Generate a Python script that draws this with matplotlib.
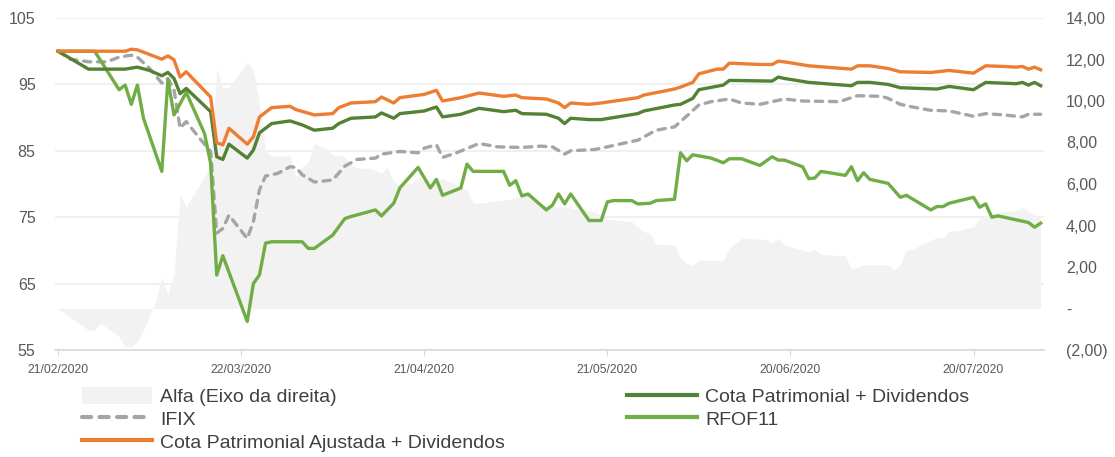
import pandas as pd
import matplotlib
matplotlib.use('Agg')
import matplotlib.pyplot as plt
from matplotlib.ticker import FuncFormatter, FixedLocator
from matplotlib.patches import Patch
from matplotlib.lines import Line2D

plt.rcParams['font.family'] = ['Liberation Sans', 'DejaVu Sans']

inicio = pd.Timestamp('2020-02-21')

# dias corridos desde 21/02/2020 e valores
alfa_dias = [0, 5, 6, 7, 10, 11, 12, 13, 14, 16, 17, 18, 19, 20, 21, 23, 25, 26, 27, 28, 31, 32, 33, 34,
             35, 38, 39, 40, 41, 42, 44, 45, 47, 48, 49, 51, 53, 54, 55, 56, 58, 59, 61, 63, 67, 68, 69,
             74, 76, 77, 79, 81, 83, 86, 88, 90, 94, 96, 97, 98, 101, 102, 103, 104, 105, 109, 110, 112,
             116, 117, 118, 119, 122, 123, 124, 125, 129, 130, 131, 132, 136, 137, 138, 139, 140, 144,
             145, 146, 147, 150, 151, 153, 155, 157, 158, 159, 160, 161]
alfa = [0.0, -1.04, -1.04, -0.71, -1.36, -1.84, -1.84, -1.6, -1.04, 0.33, 1.53, 0.65, 1.7, 5.47, 4.9,
        5.87, 6.83, 11.58, 10.6, 10.66, 11.89, 11.49, 9.89, 7.6, 7.35, 7.35, 6.35, 6.83, 7.07, 7.96,
        7.67, 7.4, 7.32, 6.92, 6.76, 6.76, 6.52, 6.8, 6.11, 5.95, 6.03, 6.35, 6.0, 6.27, 5.71, 5.1,
        5.07, 5.26, 5.47, 5.47, 4.99, 4.9, 4.9, 4.75, 4.67, 4.3, 4.18, 3.7, 3.62, 3.1, 3.06, 2.42,
        2.18, 2.1, 2.34, 2.3, 2.9, 3.38, 3.33, 3.14, 3.38, 3.06, 2.82, 2.74, 2.85, 2.61, 2.53, 1.89,
        1.99, 2.1, 2.1, 1.85, 2.1, 2.82, 2.85, 3.43, 3.38, 3.73, 3.73, 3.94, 4.35, 4.59, 4.67, 4.71,
        4.88, 4.67, 4.51, 4.3]

cota_dias = [0, 5, 11, 13, 15, 17, 18, 19, 20, 21, 25, 26, 27, 28, 31, 32, 33, 35, 38, 40, 42, 45, 46,
             48, 52, 53, 55, 56, 60, 62, 63, 66, 69, 73, 75, 76, 80, 82, 83, 84, 87, 89, 95, 96, 101,
             102, 104, 105, 109, 110, 117, 118, 119, 123, 130, 131, 133, 136, 138, 144, 146, 150, 152,
             157, 158, 159, 160, 161]
cota = [100.0, 97.3, 97.3, 97.6, 97.1, 96.3, 96.8, 95.9, 93.6, 94.4, 90.9, 84.1, 83.7, 86.0, 83.9,
        85.1, 87.7, 89.1, 89.5, 88.9, 88.1, 88.4, 89.1, 89.9, 90.1, 90.7, 89.9, 90.6, 91.0, 91.6, 90.1,
        90.5, 91.4, 90.9, 91.1, 90.6, 90.5, 89.9, 89.1, 89.9, 89.7, 89.7, 90.6, 91.0, 91.9, 92.0, 92.9,
        94.2, 94.9, 95.6, 95.5, 96.1, 95.9, 95.3, 94.8, 95.3, 95.3, 95.0, 94.5, 94.3, 94.7, 94.2, 95.3,
        95.1, 95.3, 94.9, 95.3, 94.8]

ifix_dias = [0, 2, 5, 8, 10, 12, 13, 15, 17, 18, 19, 20, 21, 23, 25, 26, 27, 28, 31, 32, 33, 34, 36,
             38, 39, 40, 42, 45, 47, 49, 52, 53, 56, 59, 60, 62, 63, 65, 69, 72, 76, 79, 81, 83, 84,
             88, 90, 95, 98, 101, 102, 105, 107, 110, 112, 115, 117, 119, 122, 128, 131, 135, 136, 138,
             140, 143, 146, 150, 152, 155, 158, 159, 161]
ifix = [100.0, 98.8, 98.4, 98.4, 99.1, 99.4, 99.1, 97.4, 95.2, 95.9, 94.2, 88.4, 89.4, 87.1, 84.9,
        72.6, 73.3, 75.3, 71.8, 74.3, 79.1, 81.2, 81.6, 82.6, 82.5, 81.4, 80.3, 80.6, 82.7, 83.7, 83.9,
        84.5, 84.9, 84.7, 85.4, 85.9, 84.0, 84.6, 86.1, 85.6, 85.5, 85.7, 85.6, 84.5, 85.0, 85.2, 85.6,
        86.6, 88.1, 88.6, 89.4, 91.9, 92.4, 92.8, 92.2, 92.0, 92.4, 92.8, 92.5, 92.4, 93.3, 93.2, 92.9,
        92.0, 91.6, 91.1, 91.0, 90.2, 90.6, 90.4, 90.1, 90.5, 90.5]

rfof_dias = [0, 6, 10, 11, 12, 13, 14, 17, 18, 19, 21, 24, 25, 26, 27, 31, 32, 33, 34, 35, 40, 41, 42,
             45, 47, 48, 52, 53, 55, 56, 59, 61, 62, 63, 66, 67, 68, 73, 74, 75, 76, 77, 79, 80, 81, 82,
             83, 84, 87, 89, 90, 91, 94, 95, 97, 98, 101, 102, 103, 104, 107, 109, 110, 112, 115, 117,
             118, 119, 122, 123, 124, 125, 129, 130, 131, 132, 133, 136, 138, 139, 143, 144, 145, 146,
             150, 151, 152, 153, 154, 159, 160, 161]
rfof = [100.0, 100.0, 94.2, 94.9, 92.0, 94.9, 89.9, 81.9, 95.7, 90.4, 93.8, 87.6, 83.1, 66.3, 69.2,
        59.3, 65.0, 66.3, 71.1, 71.3, 71.3, 70.3, 70.3, 72.3, 74.8, 75.1, 76.1, 75.2, 77.1, 79.4, 82.5,
        79.4, 80.7, 78.3, 79.4, 83.0, 81.9, 81.9, 79.8, 80.5, 78.2, 78.5, 76.9, 76.1, 76.8, 78.5, 77.0,
        78.5, 74.5, 74.5, 77.3, 77.5, 77.5, 77.0, 77.1, 77.5, 77.7, 84.7, 83.5, 84.4, 83.9, 83.2, 83.8,
        83.8, 82.8, 84.1, 83.6, 83.6, 82.6, 80.8, 80.9, 81.9, 81.3, 82.6, 80.5, 81.7, 80.7, 80.1, 78.0,
        78.3, 76.1, 76.6, 76.6, 77.1, 78.0, 76.5, 77.0, 75.0, 75.2, 74.2, 73.5, 74.1]

ajust_dias = [0, 11, 12, 13, 17, 18, 19, 20, 21, 25, 26, 27, 28, 31, 32, 33, 35, 38, 39, 42, 45, 46,
              48, 52, 53, 55, 56, 60, 62, 63, 66, 69, 73, 75, 76, 80, 82, 83, 84, 87, 89, 95, 96, 101,
              102, 104, 105, 108, 109, 110, 115, 117, 118, 119, 123, 130, 131, 133, 136, 138, 143, 146,
              150, 152, 155, 157, 158, 159, 160, 161]
ajust = [100.0, 100.0, 100.3, 100.2, 98.8, 99.3, 98.7, 96.1, 96.9, 93.1, 86.2, 85.9, 88.4, 86.0, 87.1,
         90.1, 91.5, 91.7, 91.2, 90.4, 90.6, 91.5, 92.2, 92.4, 93.1, 92.2, 93.0, 93.5, 94.1, 92.5, 93.0,
         93.7, 93.2, 93.4, 93.0, 92.8, 92.2, 91.5, 92.2, 92.0, 92.2, 93.0, 93.4, 94.3, 94.6, 95.3, 96.6,
         97.3, 97.3, 98.2, 98.0, 98.0, 98.5, 98.4, 97.8, 97.3, 97.8, 97.8, 97.4, 96.9, 96.8, 97.1, 96.7,
         97.8, 97.7, 97.6, 97.7, 97.3, 97.6, 97.2]

ticks_dias = [0, 30, 60, 90, 120, 150]


def datas(dias):
    return inicio + pd.to_timedelta(dias, unit='D')


def eixo_dir(v, pos):
    if abs(v) < 1e-9:
        return '-'
    s = f'{abs(v):.2f}'.replace('.', ',')
    return f'({s})' if v < 0 else s


cinza_txt = '#595959'
fig = plt.figure(figsize=(11.15, 4.57), dpi=100)
rect = [55 / 1115, 1 - 350 / 457, (1043.7 - 55) / 1115, (350 - 18) / 457]

# camada de fundo: grade e eixo da esquerda
ax = fig.add_axes(rect)
ax.set_ylim(55, 105)
ax.set_yticks([55, 65, 75, 85, 95, 105])
ax.grid(axis='y', color='#ededed', linewidth=1.2)
ax.set_xlim(inicio - pd.Timedelta(hours=12), inicio + pd.Timedelta(days=161, hours=12))
ax.set_xticks(datas(ticks_dias))
ax.set_xticklabels([d.strftime('%d/%m/%Y') for d in datas(ticks_dias)])
ax.tick_params(axis='x', length=4, color='#d9d9d9', labelsize=8.8, labelcolor=cinza_txt, pad=6)
ax.tick_params(axis='y', length=0, labelsize=11.5, labelcolor=cinza_txt, pad=14)
for s in ['top', 'left', 'right']:
    ax.spines[s].set_visible(False)
ax.spines['bottom'].set_color('#d9d9d9')
ax.spines['bottom'].set_linewidth(1.2)

# área do alfa no eixo da direita
ax_alfa = ax.twinx()
ax_alfa.fill_between(datas(alfa_dias), 0, alfa, color='#f2f2f2', linewidth=0)
ax_alfa.set_ylim(-2, 14)
ax_alfa.yaxis.set_major_locator(FixedLocator(range(-2, 15, 2)))
ax_alfa.yaxis.set_major_formatter(FuncFormatter(eixo_dir))
ax_alfa.tick_params(axis='y', length=0, labelsize=11.5, labelcolor=cinza_txt, pad=16)
for s in ax_alfa.spines.values():
    s.set_visible(False)

# linhas no eixo da esquerda, por cima da área
ax_lin = ax.twinx()
ax_lin.set_ylim(55, 105)
ax_lin.set_yticks([])
for s in ax_lin.spines.values():
    s.set_visible(False)
lw = 2.4
ax_lin.plot(datas(ifix_dias), ifix, color='#a5a5a5', lw=lw, linestyle=(0, (2.2, 2.0)),
            dash_capstyle='round')
ax_lin.plot(datas(rfof_dias), rfof, color='#70ad47', lw=lw)
ax_lin.plot(datas(cota_dias), cota, color='#548235', lw=lw)
ax_lin.plot(datas(ajust_dias), ajust, color='#ed7d31', lw=lw)

handles = [
    Patch(facecolor='#f2f2f2', edgecolor='none'),
    Line2D([], [], color='#a5a5a5', lw=3, linestyle=(0, (2.2, 2.0)), dash_capstyle='round'),
    Line2D([], [], color='#ed7d31', lw=3),
    Line2D([], [], color='#548235', lw=3),
    Line2D([], [], color='#70ad47', lw=3),
]
labels = ['Alfa (Eixo da direita)', 'IFIX', 'Cota Patrimonial Ajustada + Dividendos',
          'Cota Patrimonial + Dividendos', 'RFOF11']
fig.legend(handles, labels, loc='upper left', bbox_to_anchor=(82 / 1115, 1 - 387 / 457), ncol=2,
           frameon=False, fontsize=14, labelcolor='#404040', handlelength=3.6, handleheight=1.0,
           handletextpad=0.4, columnspacing=6.3, labelspacing=0.17, borderpad=0, borderaxespad=0)

fig.savefig('out.png', dpi=100)
